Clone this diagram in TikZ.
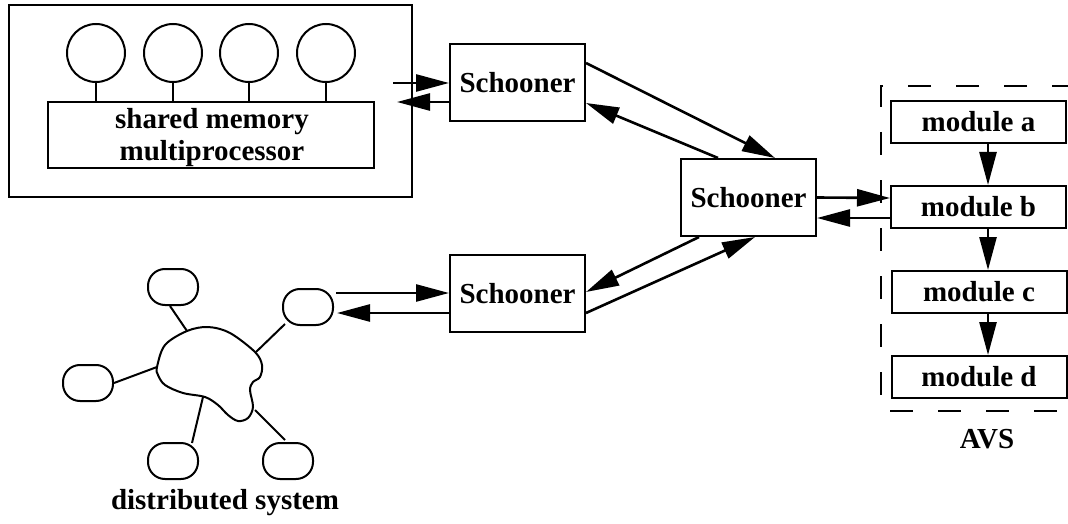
\documentclass[tikz,border=0pt]{standalone}
\usepackage{fontspec}
\setmainfont{Liberation Serif}
\usetikzlibrary{arrows.meta,calc}
\begin{document}
\begin{tikzpicture}[x=1pt,y=-1pt,
  lbl/.style={font=\fontsize{29}{32}\selectfont\bfseries},
  box/.style={draw,line width=2pt,inner sep=0pt,lbl},
  proc/.style={draw,circle,line width=2pt,minimum size=58pt,inner sep=0pt},
  host/.style={draw,line width=2pt,rounded corners=17pt,minimum width=50pt,minimum height=36pt,inner sep=0pt},
  link/.style={line width=2pt},
  arr/.style={line width=2.6pt,-{Triangle[length=33pt,width=17pt]}},
  avs/.style={line width=2pt,dash pattern=on 23pt off 25pt}]
\useasboundingbox (0,0) rectangle (1068,524);
% shared memory multiprocessor
\node[box,minimum width=403pt,minimum height=191pt] (outer) at (210.5,101) {};
\node[box,minimum width=326pt,minimum height=66pt] (mem) at (211,135) {};
\node[lbl,align=center,font=\fontsize{29}{32}\selectfont\bfseries] (memlbl) at (212,138) {shared memory\\multiprocessor};
\foreach \i/\x in {1/96,2/173,3/249,4/326}{
  \node[proc] (c\i) at (\x,53) {};
  \draw[link] (c\i.south) -- (c\i.south |- mem.north);
}
% Schooners
\node[box,minimum width=135pt,minimum height=77pt] (s1) at (517.5,82.5) {Schooner};
\node[box,minimum width=135pt,minimum height=77pt] (s2) at (748.5,197.5) {Schooner};
\node[box,minimum width=135pt,minimum height=77pt] (s3) at (517.5,293.5) {Schooner};
% modules
\node[box,minimum width=175pt,minimum height=42pt] (ma) at (978.5,122) {module a};
\node[box,minimum width=175pt,minimum height=42pt] (mb) at (978.5,207) {module b};
\node[box,minimum width=175pt,minimum height=42pt] (mc) at (979,292) {module c};
\node[box,minimum width=175pt,minimum height=42pt] (md) at (979,377) {module d};
\draw[avs] (1075,86) -- (881,86) -- (881,411) -- (1075,411);
\node[lbl,anchor=base] (avslbl) at (987,448) {AVS};
% distributed system
\node[host] (e1) at (173,287) {};
\node[host] (e2) at (308,307) {};
\node[host] (e3) at (88,383) {};
\node[host] (e4) at (173,461) {};
\node[host] (e5) at (288,461) {};
\draw[link] plot[smooth cycle,tension=0.55] coordinates {
 (157,367) (165,345) (187,331) (208,327) (230,333) (255,352) (262,365)
 (260,377) (253,382) (250,390) (253,407) (248,418) (238,421) (228,415)
 (218,405) (205,397) (183,393) (165,385) (158,375)};
\coordinate (k1) at (187,331);
\coordinate (k2) at (256,352);
\coordinate (k3) at (157,367);
\coordinate (k4) at (203,397);
\coordinate (k5) at (255,410);
\draw[link] (170,306) -- (k1);
\draw[link] (285,324) -- (k2);
\draw[link] (e3.east) -- (k3);
\draw[link] (192,443) -- (k4);
\draw[link] (285,440) -- (k5);
\node[lbl,anchor=base] (dslbl) at (225,509) {distributed system};
% connectors
\coordinate (m1) at (393,83);
\coordinate (m2) at (397,102);
\draw[arr] (m1) -- (s1.west |- m1);
\draw[arr] (s1.west |- m2) -- (m2);
\draw[arr] ([yshift=19.5pt]s1.east) -- ([xshift=26.5pt]s2.north);
\draw[arr] ([xshift=-30.5pt]s2.north) -- ([yshift=-20.5pt]s1.east);
\draw[arr] ([xshift=-49.5pt]s2.south) -- ([yshift=1.5pt]s3.east);
\draw[arr] ([yshift=-19.5pt]s3.east) -- ([xshift=6.5pt]s2.south);
\coordinate (d1) at (336,293);
\coordinate (d2) at (337,313);
\draw[arr] (d1) -- (s3.west |- d1);
\draw[arr] (s3.west |- d2) -- (d2);
\draw[arr] (s2.east) -- ([yshift=9pt]mb.west);
\draw[arr] ([yshift=-11pt]mb.west) -- ([yshift=-20.5pt]s2.east);
\draw[arr] ([xshift=9.5pt]ma.south) -- ([xshift=9.5pt]mb.north);
\draw[arr] ([xshift=9.5pt]mb.south) -- ([xshift=9pt]mc.north);
\draw[arr] ([xshift=9pt]mc.south) -- ([xshift=9pt]md.north);
\end{tikzpicture}
\end{document}
